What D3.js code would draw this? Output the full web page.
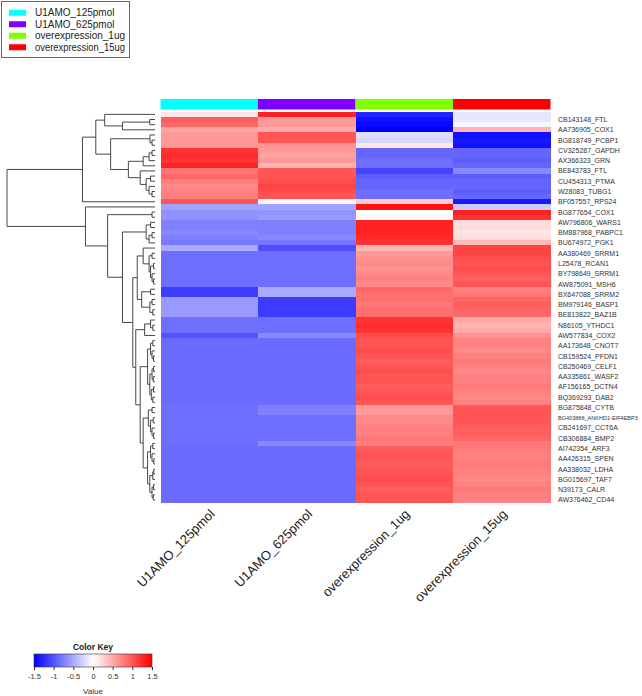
<!DOCTYPE html>
<html>
<head>
<meta charset="utf-8">
<script src="https://cdn.jsdelivr.net/npm/d3@7/dist/d3.min.js"></script>
<style>
  html, body { margin: 0; padding: 0; background: #fff; }
  svg { display: block; font-family: "Liberation Sans", Arial, Helvetica, sans-serif; }
</style>
</head>
<body>
<svg id="chart" width="642" height="696"></svg>
<script>
// ---------------- DATA ----------------
const columns = ["U1AMO_125pmol", "U1AMO_625pmol", "overexpression_1ug", "overexpression_15ug"];
const columnColors = ["#00FFFF", "#8000FF", "#80FF00", "#FF0000"];

const rowLabels = [
  "", "CB143148_FTL", "", "AA736905_COX1", "", "BG818749_PCBP1", "", "CV325287_GAPDH",
  "", "AX366323_GRN", "", "BE843783_FTL", "", "CU454313_PTMA", "", "W28083_TUBG1",
  "", "BF057557_RPS24", "", "BG877654_COX1", "", "AW796806_WARS1", "", "BM887968_PABPC1",
  "", "BU674972_PGK1", "", "AA380469_SRRM1", "", "L25478_RCAN1", "", "BY798649_SRRM1",
  "", "AW875091_MSH6", "", "BX647088_SRRM2", "", "BM979146_BASP1", "", "BE813822_BAZ1B",
  "", "N86105_YTHDC1", "", "AW577834_COX2", "", "AA173648_CNOT7", "", "CB159524_PFDN1",
  "", "CB250469_CELF1", "", "AA335861_WASF2", "", "AF156165_DCTN4", "", "BQ369293_DAB2",
  "", "BG875848_CYTB", "", "BG403888_ANKHD1-EIF4EBP3", "", "CB241697_CCT6A", "", "CB306884_BMP2",
  "", "AI742354_ARF3", "", "AA426315_SPEN", "", "AA338032_LDHA", "", "BG015697_TAF7",
  "", "N39173_CALR", "", "AW376462_CD44"
];

// row z-scores, one array per column
const u1amo125 = [
  0.15, 0.95, 0.9, 0.55, 0.6, 0.6, 0.6, 1.2, 1.25, 1.2,
  1.3, 0.8, 0.9, 0.75, 0.7, 0.75, 0.75, 1.0, -0.55, -0.65,
  -0.65, -0.75, -0.75, -0.7, -0.75, -0.8, -0.5, -0.85, -0.85, -0.85,
  -0.85, -0.85, -0.85, -0.85, -1.15, -1.15, -0.6, -0.6, -0.6, -0.6,
  -0.85, -0.85, -0.85, -1.0, -0.87, -0.87, -0.87, -0.87, -0.87, -0.87,
  -0.87, -0.87, -0.87, -0.87, -0.87, -0.87, -0.87, -0.85, -0.85, -0.85,
  -0.85, -0.85, -0.85, -0.85, -0.85, -0.87, -0.87, -0.87, -0.87, -0.87,
  -0.87, -0.87, -0.87, -0.87, -0.87, -0.87
];
const u1amo625 = [
  1.3, 0.6, 0.6, 0.5, 1.0, 1.0, 0.65, 0.6, 0.55, 0.6,
  0.45, 1.0, 1.0, 1.05, 1.1, 1.05, 1.0, 0.05, -0.55, -0.65,
  -0.6, -0.75, -0.75, -0.75, -0.7, -0.8, -1.05, -0.85, -0.85, -0.85,
  -0.85, -0.85, -0.85, -0.85, -0.5, -0.5, -1.15, -1.15, -1.15, -1.15,
  -0.85, -0.85, -0.85, -0.7, -0.87, -0.87, -0.87, -0.87, -0.87, -0.87,
  -0.87, -0.87, -0.87, -0.87, -0.87, -0.87, -0.87, -0.75, -0.75, -0.85,
  -0.85, -0.85, -0.85, -0.85, -0.7, -0.87, -0.87, -0.87, -0.87, -0.87,
  -0.87, -0.87, -0.87, -0.87, -0.87, -0.87
];
const overexpression1ug = [
  -1.3, -1.4, -1.45, -1.5, -0.2, -0.25, 0.15, -0.9, -0.9, -0.85,
  -0.85, -1.1, -0.95, -0.9, -0.9, -0.85, -0.85, 0.3, 1.4, 0.0,
  0.05, 1.3, 1.3, 1.3, 1.25, 1.2, 0.45, 0.6, 0.65, 0.7,
  0.65, 0.7, 0.75, 0.7, 0.9, 0.85, 0.85, 0.8, 0.85, 0.85,
  1.2, 1.25, 1.2, 1.05, 1.0, 1.0, 1.05, 1.0, 0.95, 1.0,
  1.05, 1.0, 1.0, 0.95, 1.0, 1.05, 1.0, 0.6, 0.6, 0.7,
  0.7, 0.75, 0.75, 0.8, 0.75, 0.95, 1.0, 1.0, 0.95, 1.0,
  1.0, 1.05, 1.0, 0.95, 1.0, 1.0
];
const overexpression15ug = [
  -0.15, -0.15, -0.05, 0.45, -1.4, -1.35, -1.4, -0.9, -0.9, -0.95,
  -0.9, -0.7, -0.95, -0.9, -0.9, -0.95, -0.9, -1.35, -0.3, 1.3,
  1.2, 0.2, 0.2, 0.15, 0.2, 0.4, 1.1, 1.1, 1.05, 1.0,
  1.05, 1.0, 0.95, 1.0, 0.75, 0.8, 0.9, 0.95, 0.9, 0.9,
  0.5, 0.45, 0.5, 0.65, 0.74, 0.74, 0.69, 0.74, 0.79, 0.74,
  0.69, 0.74, 0.74, 0.79, 0.74, 0.69, 0.74, 1.0, 1.0, 1.0,
  1.0, 0.95, 0.95, 0.9, 0.8, 0.79, 0.74, 0.74, 0.79, 0.74,
  0.74, 0.69, 0.74, 0.79, 0.74, 0.74
];

// row dendrogram: [mergeHeight, left, right]; leaves are row indices
const rowTree =
  [1.0,
    [0.49,
      [0.40,
        [0.34, 0, [0.22, [0.035, 1, 2], 3]],
        [0.30,
          [0.034, 4, [0.02, 5, 6]],
          [0.18,
            [0.08, [0.04, [0.02, 7, 8], 9], 10],
            [0.10, 11, [0.06, [0.03, 12, 13], [0.04, 14, [0.02, 15, 16]]]]]]],
      17],
    [0.47, 18,
      [0.32, [0.02, 19, 20],
        [0.22,
          [0.06, [0.03, 21, 22], [0.04, [0.02, 23, 24], 25]],
          [0.15,
            [0.12,
              [0.08, [0.04, [0.02, 27, 28], [0.03, [0.01, 29, 30], [0.02, 31, [0.01, 32, 33]]]], 26],
              [0.09, [0.03, 34, 35], [0.035, [0.02, 36, 37], [0.015, 38, 39]]]],
            [0.13,
              [0.07, [0.03, 40, [0.015, 41, 42]], 43],
              [0.10,
                [0.05, [0.03, [0.015, 44, 45], [0.02, 46, [0.01, 47, 48]]],
                       [0.035, [0.02, [0.01, 49, 50], [0.012, 51, 52]], [0.025, [0.01, 53, 54], [0.015, 55, 56]]]],
                [0.08,
                  [0.045, [0.02, 57, 58], [0.03, [0.012, 59, 60], [0.02, 61, [0.01, 62, 63]]]],
                  [0.05, [0.03, [0.015, 64, 65], [0.02, 66, [0.008, 67, 68]]],
                         [0.035, [0.015, [0.008, 69, 70], 71], [0.02, [0.01, 72, 73], [0.012, 74, 75]]]]]]]]]]]];

const keyTicks = [-1.5, -1, -0.5, 0, 0.5, 1, 1.5];

// ---------------- DRAW ----------------
const svg = d3.select("#chart");
const series = [u1amo125, u1amo625, overexpression1ug, overexpression15ug];
const nRows = u1amo125.length;

const hmLeft = 160.5, hmRight = 550.5, hmTop = 111.8, hmBottom = 502.6;

const x = d3.scaleBand().domain(columns).range([hmLeft, hmRight]).paddingInner(0).paddingOuter(0);
const y = d3.scaleBand().domain(d3.range(nRows)).range([hmTop, hmBottom]).padding(0);
const color = d3.scaleLinear().domain([-1.5, 0, 1.5]).range(["#0000FF", "#FFFFFF", "#FF0000"]).clamp(true);

// column side colours
svg.append("g").selectAll("rect").data(columns).join("rect")
  .attr("x", d => x(d)).attr("y", 99).attr("width", x.bandwidth()).attr("height", 10.5)
  .attr("fill", (d, i) => columnColors[i]);

// heatmap cells
const cells = [];
series.forEach((s, ci) => s.forEach((v, ri) => cells.push({ col: columns[ci], row: ri, v })));
svg.append("g").selectAll("rect").data(cells).join("rect")
  .attr("x", d => x(d.col)).attr("y", d => y(d.row))
  .attr("width", x.bandwidth() + 0.4).attr("height", y.bandwidth() + 0.4)
  .attr("fill", d => color(d.v)).attr("shape-rendering", "crispEdges");

// row labels (a label too long for the space left is set in a smaller size)
const labelX = 558, labelMaxRight = 638, labelSize = 7;
svg.append("g").selectAll("text").data(rowLabels.map((l, i) => ({ l, i })).filter(d => d.l))
  .join("text")
  .attr("x", labelX).attr("y", d => y(d.i) + y.bandwidth() / 2)
  .attr("dy", "0.35em").attr("font-size", labelSize).attr("fill", "#333")
  .text(d => d.l)
  .each(function () {
    const w = this.getComputedTextLength();
    if (labelX + w > labelMaxRight) {
      d3.select(this).attr("font-size", labelSize * (labelMaxRight - labelX) / w);
    }
  });

// column labels
svg.append("g").selectAll("text").data(columns).join("text")
  .attr("transform", d => `translate(${x(d) + x.bandwidth() / 2 + 3},${hmBottom + 9}) rotate(-45)`)
  .attr("text-anchor", "end").attr("dy", "0.35em")
  .attr("font-size", 13).attr("fill", "#222")
  .text(d => d);

// dendrogram
function toNode(n) {
  if (typeof n === "number") return { leaf: n, h: 0 };
  return { h: n[0], children: [toNode(n[1]), toNode(n[2])] };
}
const root = d3.hierarchy(toNode(rowTree));
const hx = d3.scaleLinear().domain([0, 1.0]).range([155, 7]);
root.eachAfter(nd => {
  if (nd.children) nd.py = (nd.children[0].py + nd.children[1].py) / 2;
  else nd.py = y(nd.data.leaf) + y.bandwidth() / 2;
  nd.px = hx(nd.data.h);
});
const segs = [];
root.each(nd => {
  if (!nd.children) return;
  const [a, b] = nd.children;
  segs.push([nd.px, a.py, nd.px, b.py]);
  segs.push([nd.px, a.py, a.px, a.py]);
  segs.push([nd.px, b.py, b.px, b.py]);
});
svg.append("g").selectAll("line").data(segs).join("line")
  .attr("x1", d => d[0]).attr("y1", d => d[1]).attr("x2", d => d[2]).attr("y2", d => d[3])
  .attr("stroke", "#333").attr("stroke-width", 0.9);

// legend
const lg = svg.append("g");
lg.append("rect").attr("x", 1.5).attr("y", 1.5).attr("width", 128).attr("height", 56)
  .attr("fill", "#fff").attr("stroke", "#666").attr("stroke-width", 1);
const ly = d3.scaleBand().domain(columns).range([7, 53]);
lg.selectAll("rect.sw").data(columns).join("rect").attr("class", "sw")
  .attr("x", 9).attr("y", d => ly(d) + ly.bandwidth() / 2 - 3).attr("width", 17).attr("height", 6)
  .attr("fill", (d, i) => columnColors[i]);
lg.selectAll("text").data(columns).join("text")
  .attr("x", 35).attr("y", d => ly(d) + ly.bandwidth() / 2).attr("dy", "0.35em")
  .attr("font-size", 10).attr("fill", "#222").text(d => d)
  .each(function () {
    const w = this.getComputedTextLength();
    if (35 + w > 125) d3.select(this).attr("textLength", 90).attr("lengthAdjust", "spacingAndGlyphs");
  });

// color key
const kx = d3.scaleLinear().domain([-1.5, 1.5]).range([34, 152]);
const defs = svg.append("defs");
const grad = defs.append("linearGradient").attr("id", "kg");
grad.selectAll("stop").data([-1.5, 0, 1.5]).join("stop")
  .attr("offset", d => ((d + 1.5) / 3 * 100) + "%").attr("stop-color", d => color(d));
const kg = svg.append("g");
kg.append("text").attr("x", 93).attr("y", 650).attr("text-anchor", "middle")
  .attr("font-size", 8.5).attr("font-weight", "bold").attr("fill", "#222").text("Color Key");
kg.append("rect").attr("x", kx(-1.5)).attr("y", 654).attr("width", kx(1.5) - kx(-1.5)).attr("height", 13)
  .attr("fill", "url(#kg)").attr("stroke", "#333").attr("stroke-width", 0.6);
const keyAxis = d3.axisBottom(kx).tickValues(keyTicks).tickSize(3).tickPadding(4)
  .tickFormat(d => String(d));
const ka = kg.append("g").attr("transform", "translate(0,667)").call(keyAxis);
ka.select(".domain").remove();
ka.selectAll("text").attr("font-size", 7.5).attr("fill", "#333").attr("font-family", "Liberation Sans, Arial, sans-serif");
ka.selectAll("line").attr("stroke", "#333");
kg.append("text").attr("x", 93).attr("y", 694).attr("text-anchor", "middle")
  .attr("font-size", 8).attr("fill", "#333").text("Value");
</script>
</body>
</html>
